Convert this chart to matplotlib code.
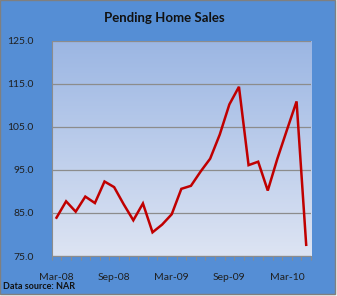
import numpy as np
import matplotlib
matplotlib.use("Agg")
import matplotlib.pyplot as plt
from matplotlib.patches import Rectangle
from matplotlib.colors import LinearSegmentedColormap

plt.rcParams['font.family'] = ['Lato', 'DejaVu Sans']

# monthly index, Mar-08 .. May-10
months = ['Mar-08', 'Apr-08', 'May-08', 'Jun-08', 'Jul-08', 'Aug-08', 'Sep-08',
          'Oct-08', 'Nov-08', 'Dec-08', 'Jan-09', 'Feb-09', 'Mar-09', 'Apr-09',
          'May-09', 'Jun-09', 'Jul-09', 'Aug-09', 'Sep-09', 'Oct-09', 'Nov-09',
          'Dec-09', 'Jan-10', 'Feb-10', 'Mar-10', 'Apr-10', 'May-10']
index_values = [83.9, 87.7, 85.3, 88.8, 87.3, 92.3, 91.0, 87.0, 83.3, 87.2,
                80.5, 82.3, 84.7, 90.6, 91.3, 94.6, 97.6, 103.2, 110.2, 114.3,
                96.1, 96.9, 90.2, 97.6, 104.3, 110.9, 77.6]
y_ticks = [75.0, 85.0, 95.0, 105.0, 115.0, 125.0]
label_every = 6

bg_blue = '#558ED5'
fig = plt.figure(figsize=(3.37, 2.96), dpi=100, facecolor='#F2F2F2')
fig.patches.append(Rectangle((0, 0.008), 0.994, 0.992, transform=fig.transFigure,
                             facecolor=bg_blue, edgecolor='#7F7F7F', lw=1.0, zorder=-5))

ax = fig.add_axes([0.1534, 0.1351, 0.7694, 0.7274])
ax.set_zorder(2)
x = np.arange(len(months))

# gradient fill of the plot area
grad = np.linspace(0, 1, 256).reshape(-1, 1)
cmap = LinearSegmentedColormap.from_list('pa', ['#DDE4F3', '#9BB6E3'])
ax.imshow(grad, extent=[0, 1, 0, 1], transform=ax.transAxes, aspect='auto',
          cmap=cmap, origin='lower', zorder=0)

ax.plot(x, index_values, color='#C00000', lw=1.8, zorder=3, solid_joinstyle='miter')

ax.set_xlim(-0.5, len(months) - 0.5)
ax.set_ylim(75, 125)
ax.set_yticks(y_ticks)
ax.set_yticklabels([f'{v:.1f}' for v in y_ticks])
ax.yaxis.grid(True, color='#8C8C8C', lw=0.9)
ax.set_axisbelow(False)
for line in ax.get_ygridlines():
    line.set_zorder(1)

ax.set_xticks(np.arange(-0.5, len(months), 1.0), minor=True)
ax.set_xticks(x[::label_every])
ax.set_xticklabels(months[::label_every])
ax.tick_params(axis='x', which='major', length=0, pad=12, labelsize=7.5, colors='#1F1F1F')
ax.tick_params(axis='x', which='minor', length=3, color='#8C8C8C', width=0.8)
ax.tick_params(axis='y', length=0, pad=13, labelsize=7.5, colors='#1F1F1F')

for side in ['top', 'right']:
    ax.spines[side].set_visible(False)
ax.spines['left'].set_color('#8C8C8C')
ax.spines['bottom'].set_color('#8C8C8C')

fig.text(0.487, 0.938, 'Pending Home Sales', ha='center', va='center',
         fontsize=9.5, fontweight='bold', color='#111111')
fig.text(0.008, 0.031, 'Data source: NAR', ha='left', va='center',
         fontsize=6.5, fontweight='bold', color='#111111')

fig.savefig('out.png', dpi=100, facecolor=fig.get_facecolor())
